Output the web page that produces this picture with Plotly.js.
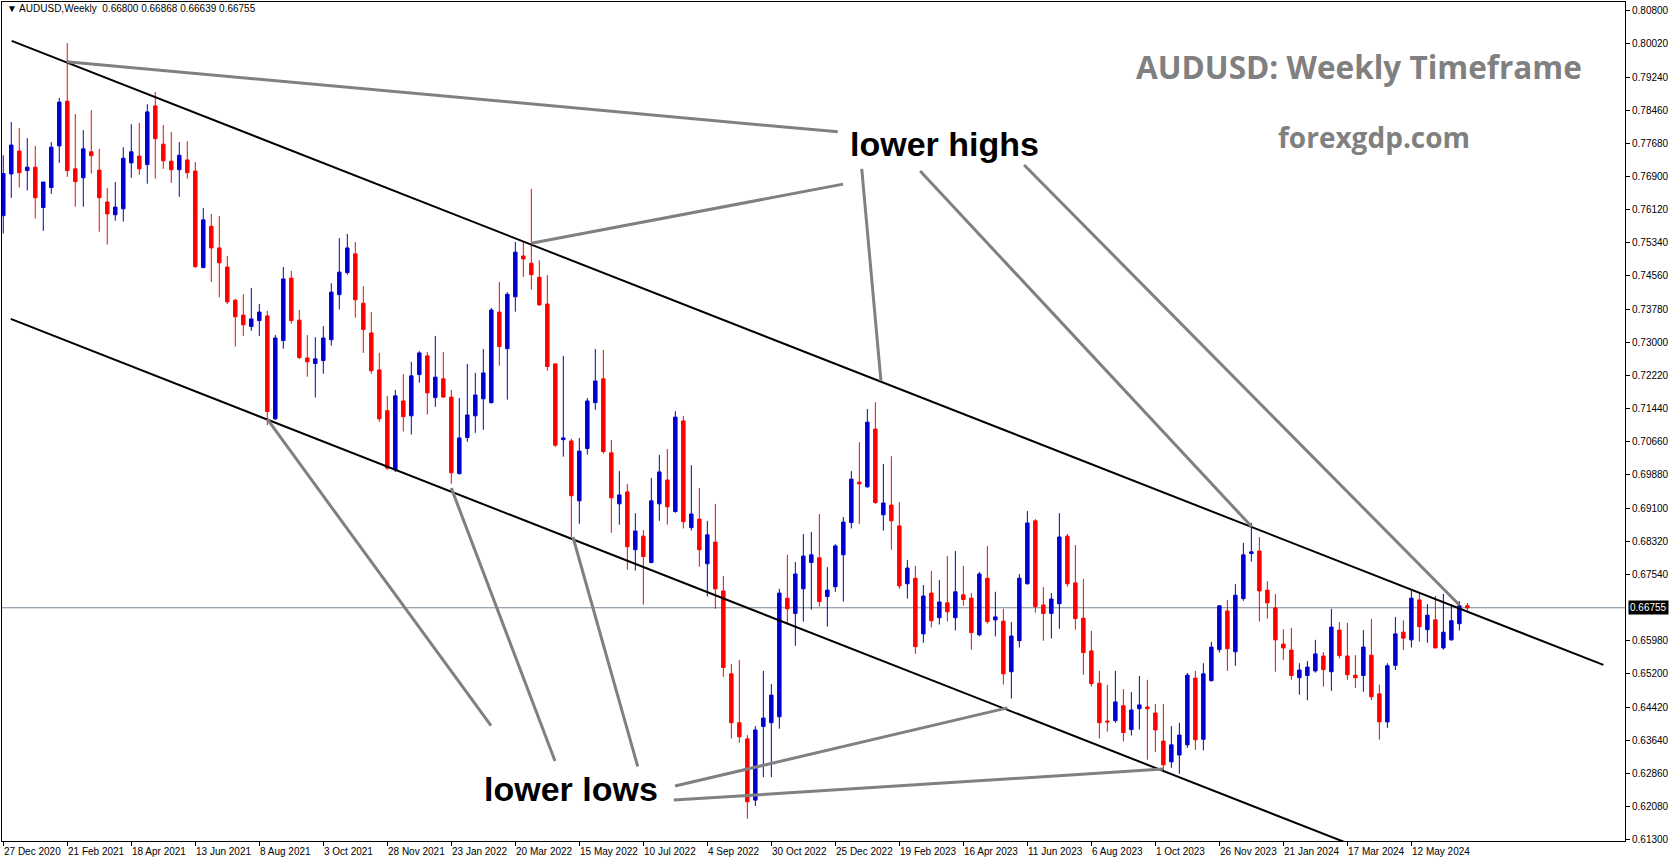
<!DOCTYPE html>
<html><head><meta charset="utf-8">
<script src="https://cdn.plot.ly/plotly-3.0.1.min.js"></script>
<style>html,body{margin:0;padding:0;background:#fff;overflow:hidden}#chart{width:1673px;height:861px}</style>
</head><body><div id="chart"></div>
<script>
// ---- weekly AUDUSD candles (27 Dec 2020 ... 30 Jun 2024) ----
const open = [0.7598,0.7696,0.7750,0.7704,0.7712,0.7617,0.7664,0.7762,0.7867,0.7708,
0.7687,0.7748,0.7705,0.7630,0.7600,0.7614,0.7722,0.7738,0.7718,0.7856,
0.7766,0.7726,0.7706,0.7729,0.7703,0.7476,0.7573,0.7522,0.7477,0.7399,
0.7364,0.7337,0.7351,0.7362,0.7120,0.7304,0.7451,0.7352,0.7263,0.7250,
0.7257,0.7306,0.7412,0.7464,0.7508,0.7392,0.7322,0.7235,0.7139,0.7000,
0.7162,0.7127,0.7224,0.7268,0.7170,0.7214,0.7171,0.6991,0.7076,0.7127,
0.7167,0.7158,0.7371,0.7285,0.7407,0.7503,0.7486,0.7453,0.7390,0.7249,
0.7071,0.7068,0.6927,0.7050,0.7158,0.7214,0.7040,0.6920,0.6948,0.6812,
0.6844,0.6782,0.6920,0.6976,0.6902,0.7115,0.6864,0.6884,0.6779,0.6830,
0.6715,0.6520,0.6405,0.6367,0.6223,0.6396,0.6405,0.6419,0.6698,0.6662,
0.6720,0.6782,0.6793,0.6702,0.6725,0.6800,0.6876,0.6971,0.6960,0.7096,
0.6894,0.6917,0.6868,0.6732,0.6745,0.6614,0.6710,0.6652,0.6687,0.6652,
0.6706,0.6698,0.6612,0.6745,0.6647,0.6644,0.6525,0.6598,0.6732,0.6880,
0.6682,0.6662,0.6685,0.6844,0.6734,0.6651,0.6574,0.6498,0.6409,0.6410,
0.6445,0.6389,0.6438,0.6442,0.6428,0.6362,0.6313,0.6329,0.6353,0.6510,
0.6366,0.6504,0.6577,0.6668,0.6572,0.6697,0.6803,0.6809,0.6717,0.6675,
0.6590,0.6576,0.6511,0.6516,0.6527,0.6562,0.6525,0.6623,0.6562,0.6517,
0.6516,0.6564,0.6473,0.6407,0.6540,0.6618,0.6600,0.6694,0.6624,0.6647,
0.6581,0.6600,0.6638,0.66800];
const high = [0.7740,0.7818,0.7804,0.7780,0.7762,0.7677,0.7771,0.7875,0.8004,0.7837,
0.7799,0.7846,0.7755,0.7663,0.7677,0.7759,0.7813,0.7816,0.7860,0.7889,
0.7811,0.7795,0.7771,0.7773,0.7724,0.7616,0.7602,0.7597,0.7503,0.7402,
0.7413,0.7428,0.7390,0.7374,0.7317,0.7477,0.7468,0.7376,0.7317,0.7312,
0.7338,0.7439,0.7545,0.7555,0.7536,0.7432,0.7371,0.7275,0.7174,0.7188,
0.7225,0.7254,0.7279,0.7277,0.7315,0.7277,0.7188,0.7169,0.7249,0.7228,
0.7284,0.7381,0.7442,0.7418,0.7536,0.7536,0.7661,0.7493,0.7458,0.7251,
0.7268,0.7073,0.7075,0.7169,0.7284,0.7282,0.7070,0.6997,0.6967,0.6898,
0.6858,0.6981,0.7035,0.7049,0.7138,0.7127,0.7011,0.6957,0.6880,0.6920,
0.6750,0.6543,0.6553,0.6376,0.6397,0.6527,0.6496,0.6720,0.6800,0.6783,
0.6849,0.6854,0.6896,0.6771,0.6825,0.6889,0.6997,0.7065,0.7143,0.7159,
0.7014,0.7032,0.6924,0.6788,0.6774,0.6729,0.6762,0.6741,0.6797,0.6809,
0.6774,0.6710,0.6760,0.6821,0.6713,0.6673,0.6642,0.6755,0.6903,0.6884,
0.6724,0.6710,0.6898,0.6849,0.6823,0.6743,0.6621,0.6527,0.6494,0.6527,
0.6484,0.6477,0.6515,0.6506,0.6449,0.6449,0.6397,0.6405,0.6522,0.6527,
0.6545,0.6595,0.6682,0.6694,0.6731,0.6828,0.6875,0.6842,0.6738,0.6708,
0.6625,0.6628,0.6545,0.6550,0.6600,0.6571,0.6673,0.6642,0.6640,0.6564,
0.6623,0.6649,0.6495,0.6545,0.6654,0.6646,0.6715,0.6710,0.6684,0.6703,
0.6708,0.6684,0.6691,0.66868];
const low = [0.7556,0.7640,0.7664,0.7657,0.7591,0.7562,0.7649,0.7722,0.7689,0.7619,
0.7619,0.7697,0.7560,0.7530,0.7586,0.7584,0.7687,0.7694,0.7673,0.7685,
0.7708,0.7675,0.7642,0.7685,0.7475,0.7474,0.7442,0.7406,0.7390,0.7290,
0.7315,0.7327,0.7315,0.7105,0.7117,0.7285,0.7344,0.7261,0.7219,0.7170,
0.7226,0.7292,0.7377,0.7459,0.7358,0.7275,0.7226,0.7113,0.7000,0.6995,
0.7090,0.7083,0.7205,0.7130,0.7148,0.7170,0.6967,0.6989,0.7066,0.7087,
0.7094,0.7156,0.7245,0.7165,0.7372,0.7454,0.7424,0.7386,0.7233,0.7054,
0.7031,0.6842,0.6873,0.7036,0.7141,0.7038,0.6852,0.6871,0.6765,0.6763,
0.6683,0.6780,0.6880,0.6871,0.6899,0.6862,0.6857,0.6772,0.6702,0.6673,
0.6513,0.6368,0.6358,0.6179,0.6209,0.6277,0.6277,0.6391,0.6636,0.6586,
0.6643,0.6671,0.6678,0.6631,0.6713,0.6690,0.6862,0.6873,0.6958,0.6920,
0.6857,0.6812,0.6720,0.6697,0.6567,0.6593,0.6629,0.6636,0.6643,0.6622,
0.6680,0.6577,0.6608,0.6638,0.6608,0.6495,0.6462,0.6582,0.6730,0.6664,
0.6598,0.6603,0.6626,0.6725,0.6624,0.6518,0.6490,0.6368,0.6384,0.6405,
0.6361,0.6375,0.6389,0.6318,0.6336,0.6289,0.6299,0.6285,0.6346,0.6341,
0.6340,0.6502,0.6570,0.6527,0.6539,0.6692,0.6784,0.6643,0.6650,0.6525,
0.6553,0.6506,0.6471,0.6458,0.6523,0.6490,0.6480,0.6556,0.6506,0.6487,
0.6478,0.6458,0.6365,0.6393,0.6529,0.6576,0.6582,0.6596,0.6593,0.6580,
0.6577,0.6598,0.6622,0.66639];
const close = [0.7697,0.7764,0.7699,0.7712,0.7640,0.7677,0.7759,0.7865,0.7704,0.7678,
0.7755,0.7739,0.7640,0.7602,0.7618,0.7733,0.7748,0.7708,0.7842,0.7779,
0.7727,0.7706,0.7740,0.7699,0.7478,0.7588,0.7522,0.7487,0.7395,0.7360,
0.7341,0.7355,0.7371,0.7137,0.7310,0.7449,0.7351,0.7264,0.7254,0.7261,
0.7310,0.7418,0.7465,0.7522,0.7400,0.7330,0.7233,0.7120,0.7004,0.7174,
0.7125,0.7221,0.7275,0.7181,0.7218,0.7171,0.6993,0.7075,0.7129,0.7176,
0.7228,0.7376,0.7290,0.7413,0.7512,0.7496,0.7459,0.7388,0.7243,0.7058,
0.7075,0.6939,0.7044,0.7162,0.7209,0.7043,0.6934,0.6941,0.6819,0.6856,
0.6796,0.6927,0.6995,0.6913,0.7124,0.6878,0.6896,0.6812,0.6847,0.6720,
0.6535,0.6405,0.6372,0.6219,0.6388,0.6416,0.6470,0.6710,0.6673,0.6755,
0.6797,0.6800,0.6690,0.6717,0.6821,0.6877,0.6978,0.6967,0.7112,0.6923,
0.6922,0.6880,0.6727,0.6769,0.6584,0.6703,0.6645,0.6689,0.6666,0.6713,
0.6695,0.6617,0.6755,0.6643,0.6654,0.6520,0.6609,0.6745,0.6875,0.6678,
0.6662,0.6696,0.6842,0.6732,0.6650,0.6570,0.6497,0.6405,0.6407,0.6454,
0.6382,0.6435,0.6447,0.6438,0.6388,0.6306,0.6353,0.6376,0.6517,0.6365,
0.6520,0.6583,0.6680,0.6579,0.6705,0.6800,0.6807,0.6715,0.6687,0.6600,
0.6581,0.6516,0.6529,0.6536,0.6567,0.6530,0.6630,0.6563,0.6518,0.6511,
0.6583,0.6466,0.6407,0.6539,0.6614,0.6604,0.6698,0.6631,0.6658,0.6581,
0.6618,0.6645,0.6680,0.66755];

// x-axis labels (every 8th week) and their candle index
const dateLabels = ['27 Dec 2020','21 Feb 2021','18 Apr 2021','13 Jun 2021','8 Aug 2021','3 Oct 2021',
'28 Nov 2021','23 Jan 2022','20 Mar 2022','15 May 2022','10 Jul 2022','4 Sep 2022','30 Oct 2022',
'25 Dec 2022','19 Feb 2023','16 Apr 2023','11 Jun 2023','6 Aug 2023','1 Oct 2023','26 Nov 2023',
'21 Jan 2024','17 Mar 2024','12 May 2024'];
const dateIdx = [0,8,16,24,32,40,48,56,64,72,80,88,96,104,112,120,128,136,144,152,160,168,176];

// price axis labels
const priceTicks = [0.80800,0.80020,0.79240,0.78460,0.77680,0.76900,0.76120,0.75340,0.74560,0.73780,
0.73000,0.72220,0.71440,0.70660,0.69880,0.69100,0.68320,0.67540,0.65980,0.65200,0.64420,0.63640,
0.62860,0.62080,0.61300];
const priceTickText = ['0.80800','0.80020','0.79240','0.78460','0.77680','0.76900','0.76120','0.75340',
'0.74560','0.73780','0.73000','0.72220','0.71440','0.70660','0.69880','0.69100','0.68320','0.67540',
'0.65980','0.65200','0.64420','0.63640','0.62860','0.62080','0.61300'];
const lastPrice = 0.66755;
const lastPriceText = '0.66755';

// channel lines [x0, y0, x1, y1] in (week index, price)
const upperChannel = [1.05, 0.8009, 200.0, 0.6541];
const lowerChannel = [0.93, 0.7355, 174.6, 0.6073];
// grey pointer lines [x0, y0, x1, y1]
const highPointers = [
  [7.93, 0.7960, 104.3, 0.7795],
  [66.0, 0.7533, 104.97, 0.7672],
  [107.3, 0.7708, 109.7, 0.7209],
  [114.6, 0.7703, 156.05, 0.6866],
  [127.6, 0.7717, 182.0, 0.6682]
];
const lowPointers = [
  [33.0, 0.7119, 60.96, 0.6398],
  [56.0, 0.6957, 68.96, 0.6315],
  [71.2, 0.6842, 79.3, 0.6302],
  [83.96, 0.6256, 125.5, 0.6440],
  [83.8, 0.6223, 144.97, 0.6296]
];

// ---- layout geometry (pixels) ----
const W = 1673, H = 861, PL = 2, PR = 1625, PT = 2, PB = 841;
const X = px => (px - PL) / (PR - PL);
const Y = py => (PB - py) / (PB - PT);

const xIdx = open.map((_, i) => i);
const BLUE = '#0000d0', RED = '#ff0000';

const traces = [{
  type: 'candlestick', x: xIdx, open: open, high: high, low: low, close: close,
  increasing: {line: {color: BLUE, width: 1}, fillcolor: BLUE},
  decreasing: {line: {color: RED, width: 1}, fillcolor: RED},
  whiskerwidth: 0, hoverinfo: 'skip', showlegend: false
}];
function seg(s, color, width) {
  return {type: 'scatter', mode: 'lines', x: [s[0], s[2]], y: [s[1], s[3]],
    line: {color: color, width: width}, hoverinfo: 'skip', showlegend: false};
}
traces.push(seg(upperChannel, '#000000', 2));
traces.push(seg(lowerChannel, '#000000', 2));
highPointers.concat(lowPointers).forEach(s => traces.push(seg(s, '#808080', 3)));

const annotations = [];
dateLabels.forEach((t, k) => annotations.push({
  x: dateIdx[k], xref: 'x', y: Y(851), yref: 'paper', text: t, showarrow: false,
  xanchor: 'left', yanchor: 'middle', xshift: -1,
  font: {family: 'Liberation Sans, Arial, sans-serif', size: 10, color: '#000'}
}));
annotations.push({x: 1, xref: 'paper', y: lastPrice, yref: 'y', text: lastPriceText, showarrow: false,
  xanchor: 'left', yanchor: 'middle', xshift: 3, bgcolor: '#000', borderpad: 1,
  font: {family: 'Liberation Sans, Arial, sans-serif', size: 10, color: '#fff'}});
annotations.push({x: X(5), xref: 'paper', y: Y(9), yref: 'paper', showarrow: false,
  xanchor: 'left', yanchor: 'middle',
  text: '\u25BC AUDUSD,Weekly  0.66800 0.66868 0.66639 0.66755',
  font: {family: 'Liberation Sans, Arial, sans-serif', size: 10, color: '#000'}});
annotations.push({x: X(1134), xref: 'paper', y: Y(66), yref: 'paper', showarrow: false,
  xanchor: 'left', yanchor: 'middle', text: '<b>AUDUSD: Weekly Timeframe</b>',
  font: {family: 'Open Sans, sans-serif', size: 31.5, color: '#808080'}});
annotations.push({x: X(1276), xref: 'paper', y: Y(137), yref: 'paper', showarrow: false,
  xanchor: 'left', yanchor: 'middle', text: '<b>forexgdp.com</b>',
  font: {family: 'Open Sans, sans-serif', size: 28, color: '#808080'}});
annotations.push({x: X(848), xref: 'paper', y: Y(144), yref: 'paper', showarrow: false,
  xanchor: 'left', yanchor: 'middle', text: '<b>lower highs</b>',
  font: {family: 'Liberation Sans, Arial, sans-serif', size: 34, color: '#000'}});
annotations.push({x: X(482), xref: 'paper', y: Y(789), yref: 'paper', showarrow: false,
  xanchor: 'left', yanchor: 'middle', text: '<b>lower lows</b>',
  font: {family: 'Liberation Sans, Arial, sans-serif', size: 34, color: '#000'}});

const layout = {
  width: W, height: H, margin: {l: PL, r: W - PR, t: PT, b: H - PB, pad: 0},
  paper_bgcolor: '#fff', plot_bgcolor: '#fff', showlegend: false, boxgap: 0.38,
  xaxis: {range: [-0.16, 202.7], type: 'linear', tickmode: 'array', tickvals: dateIdx,
    ticktext: dateLabels.map(() => ''), ticks: 'outside', ticklen: 4, tickcolor: '#000',
    showgrid: false, zeroline: false, showline: true, linecolor: '#000', linewidth: 1, mirror: true,
    rangeslider: {visible: false}, fixedrange: true},
  yaxis: {range: [0.61268, 0.81005], side: 'right', tickmode: 'array', tickvals: priceTicks,
    ticktext: priceTickText, ticks: 'outside', ticklen: 4, tickcolor: '#000',
    tickfont: {family: 'Liberation Sans, Arial, sans-serif', size: 10, color: '#000'},
    showgrid: false, zeroline: false, showline: true, linecolor: '#000', linewidth: 1, mirror: true,
    fixedrange: true},
  shapes: [{type: 'line', xref: 'paper', x0: 0, x1: 1, yref: 'y', y0: lastPrice, y1: lastPrice,
    line: {color: '#778899', width: 1}, layer: 'below'}],
  annotations: annotations
};
Plotly.newPlot('chart', traces, layout, {displayModeBar: false, staticPlot: true});
</script></body></html>
